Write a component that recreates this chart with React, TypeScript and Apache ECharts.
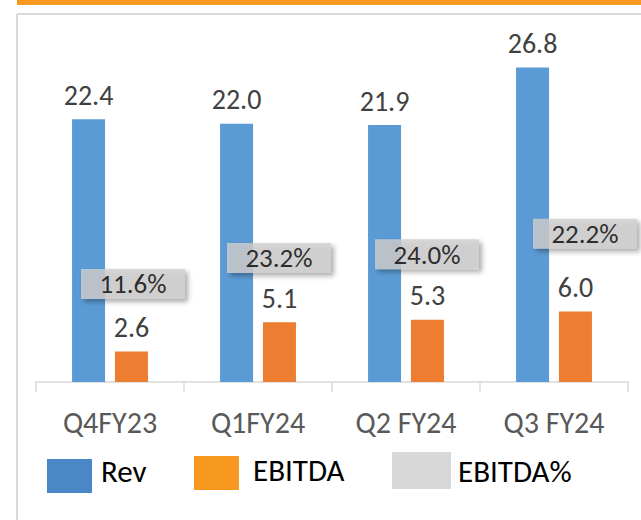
import React, { useEffect, useRef } from "react";
import * as echarts from "echarts";

const categories = ["Q4FY23", "Q1FY24", "Q2 FY24", "Q3 FY24"];
const revValues = [22.4, 22.0, 21.9, 26.8];
const ebitdaValues = [2.6, 5.1, 5.3, 6.0];
const ebitdaPctValues = [11.6, 23.2, 24.0, 22.2];
// manual label placement (as in the source, callouts were dragged by hand)
const pctLabelOffsets = [
  [23, -30],
  [21, 12],
  [21, 13],
  [31, -18],
];

const FONT = "Carlito, 'Open Sans', sans-serif";

// legend swatch with empty headroom so the text sits a little above the swatch centre
const swatch = (w: number, h: number, head: number) =>
  `path://M0,0h0.01v0.01h-0.01z M0,${head}H${w}V${head + h}H0Z`;

export default function App() {
  const ref = useRef<HTMLDivElement>(null);
  useEffect(() => {
    if (!ref.current) return;
    const chart = echarts.init(ref.current, undefined, { renderer: "svg" });
    const legendText = (left: number) => ({
      fontSize: 31,
      color: "#000",
      fontFamily: FONT,
      padding: [0, 0, 0, left],
    });
    const option: any = {
      animation: false,
      backgroundColor: "#ffffff",
      textStyle: { fontFamily: FONT },
      graphic: [
        { type: "rect", shape: { x: 17, y: 0, width: 624, height: 5 }, style: { fill: "#f79a22" }, silent: true },
        { type: "line", shape: { x1: 17, y1: 14, x2: 641, y2: 14 }, style: { stroke: "#d9d9d9", lineWidth: 2 }, silent: true },
        { type: "line", shape: { x1: 17, y1: 14, x2: 17, y2: 520 }, style: { stroke: "#d9d9d9", lineWidth: 2 }, silent: true },
      ],
      grid: { left: 36, right: 13, top: 30, bottom: 138, containLabel: false },
      xAxis: {
        type: "category",
        data: categories,
        axisLine: { lineStyle: { color: "#d9d9d9", width: 1.5 } },
        axisTick: { show: true, length: 10, lineStyle: { color: "#d9d9d9", width: 1.5 } },
        axisLabel: { color: "#595959", fontSize: 30, margin: 25, fontFamily: FONT },
      },
      yAxis: [
        { type: "value", min: 0, max: 30, show: false, splitLine: { show: false } },
        { type: "value", min: 0, max: 60, show: false, splitLine: { show: false } },
      ],
      legend: [
        {
          left: 47, top: 448, padding: 0, itemWidth: 45, itemHeight: 45, symbolKeepAspect: false,
          icon: swatch(45, 34, 11), selectedMode: false,
          data: [{ name: "Rev", itemStyle: { color: "#4a87c6" } }],
          textStyle: legendText(4),
        },
        {
          left: 194, top: 449, padding: 0, itemWidth: 45, itemHeight: 41, symbolKeepAspect: false,
          icon: swatch(45, 34, 7), selectedMode: false,
          data: [{ name: "EBITDA", itemStyle: { color: "#f7991f" } }],
          textStyle: legendText(9),
        },
        {
          left: 392, top: 452, padding: 0, itemWidth: 59, itemHeight: 37, icon: "rect", selectedMode: false,
          data: [{ name: "EBITDA%", itemStyle: { color: "#d0cece" } }],
          textStyle: legendText(2),
        },
      ],
      series: [
        {
          name: "Rev",
          type: "bar",
          data: revValues,
          barWidth: 33,
          barGap: "30%",
          itemStyle: { color: "#5b9bd5" },
          label: {
            show: true, position: "top", distance: 10, color: "#404040", fontSize: 28, fontFamily: FONT,
            formatter: (p: any) => Number(p.value).toFixed(1),
          },
        },
        {
          name: "EBITDA",
          type: "bar",
          data: ebitdaValues,
          barWidth: 33,
          itemStyle: { color: "#ed7d31" },
          label: {
            show: true, position: "top", distance: 10, color: "#404040", fontSize: 28, fontFamily: FONT,
            formatter: (p: any) => Number(p.value).toFixed(1),
          },
        },
        {
          name: "EBITDA%",
          type: "scatter",
          yAxisIndex: 1,
          symbolSize: 0,
          itemStyle: { color: "#d0cece" },
          data: ebitdaPctValues.map((v, i) => ({ value: v, label: { offset: pctLabelOffsets[i] } })),
          label: {
            show: true,
            position: "inside",
            formatter: (p: any) => Number(p.value).toFixed(1) + "%",
            color: "#000",
            fontSize: 27,
            fontFamily: FONT,
            backgroundColor: "#d0cece",
            width: 72,
            align: "center",
            verticalAlign: "middle",
            lineHeight: 28,
            padding: [1, 16, 1, 16],
            shadowColor: "rgba(0,0,0,0.4)",
            shadowBlur: 5,
            shadowOffsetX: 3,
            shadowOffsetY: 3,
          },
        },
      ],
    };
    chart.setOption(option);
    return () => chart.dispose();
  }, []);
  return (
    <div
      ref={ref}
      style={{ position: "absolute", left: 0, top: 0, width: 641, height: 520 }}
    />
  );
}
